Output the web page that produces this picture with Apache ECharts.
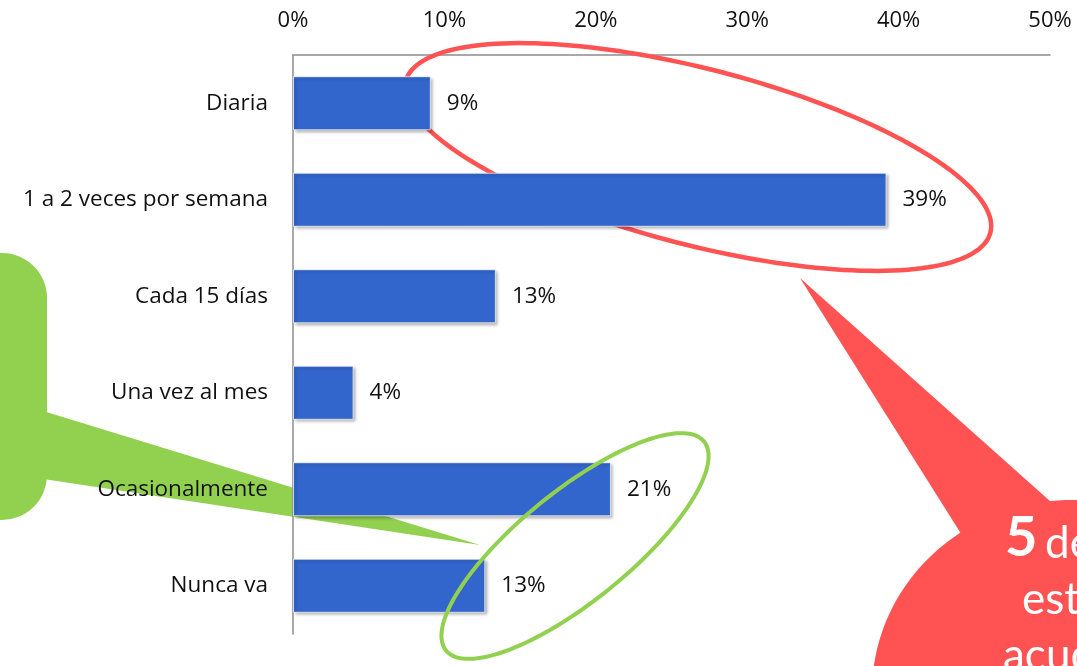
<!DOCTYPE html>
<html>
<head>
<meta charset="utf-8">
<script src="https://cdn.jsdelivr.net/npm/echarts@6/dist/echarts.min.js"></script>
<style>
html,body{margin:0;padding:0;background:#fff;}
#chart{width:1077px;height:666px;}
</style>
</head>
<body>
<div id="chart"></div>
<script>
// Data
const categories = ['Diaria', '1 a 2 veces por semana', 'Cada 15 días', 'Una vez al mes', 'Ocasionalmente', 'Nunca va'];
const values = [9.1, 39.2, 13.4, 4.0, 21.0, 12.7];
const axisMin = 0, axisMax = 50, axisStep = 10;
const calloutLines = ['de cada 10', 'estudiantes', 'acuden'];
const calloutNumber = '5';

const FONT = '"Open Sans"';
const RED = '#FF5252';
const GREEN = '#92D050';

function ellipsePoints(cx, cy, a, b, deg, n) {
  const th = deg * Math.PI / 180, pts = [];
  for (let i = 0; i < n; i++) {
    const t = i / n * 2 * Math.PI;
    pts.push([cx + a * Math.cos(t) * Math.cos(th) - b * Math.sin(t) * Math.sin(th),
              cy + a * Math.cos(t) * Math.sin(th) + b * Math.sin(t) * Math.cos(th)]);
  }
  return pts;
}

const chart = echarts.init(document.getElementById('chart'), null, {renderer: 'canvas'});
chart.setOption({
  animation: false,
  backgroundColor: '#fff',
  grid: {left: 293, right: 27, top: 55, bottom: 32, containLabel: false},
  xAxis: {
    type: 'value', position: 'top', min: axisMin, max: axisMax, interval: axisStep,
    axisLine: {show: true, lineStyle: {color: '#8c8c8c', width: 1.5}},
    axisTick: {show: false},
    splitLine: {show: false},
    axisLabel: {formatter: '{value}%', color: '#111', fontFamily: FONT, fontSize: 22, margin: 23}
  },
  yAxis: {
    type: 'category', data: categories, inverse: true,
    axisLine: {show: true, lineStyle: {color: '#8c8c8c', width: 1.5}},
    axisTick: {show: false},
    axisLabel: {color: '#111', fontFamily: FONT, fontSize: 22.5, margin: 25}
  },
  series: [{
    type: 'bar', data: values, barWidth: '56%', z: 5,
    itemStyle: {color: '#3366CC', borderColor: 'rgba(255,255,255,0.7)', borderWidth: 1,
      shadowColor: 'rgba(0,0,0,0.35)', shadowBlur: 3, shadowOffsetX: 2, shadowOffsetY: 2},
    label: {show: true, position: 'right', distance: 16, color: '#111', fontFamily: FONT, fontSize: 22.5,
      formatter: p => Math.round(p.value) + '%'}
  }],
  graphic: [
    // green callout (behind chart)
    {type: 'rect', z: -10, shape: {x: -60, y: 253, width: 107, height: 267, r: 45}, style: {fill: GREEN}},
    {type: 'polygon', z: -10, shape: {points: [[30, 407], [480, 545], [30, 477]]}, style: {fill: GREEN}},
    // red ellipse (behind bars)
    {type: 'polygon', z: 1, shape: {points: ellipsePoints(698, 157, 302, 88, 14.5, 180)},
      style: {fill: 'none', stroke: RED, lineWidth: 4.5}},
    // green ellipse (above bars)
    {type: 'polygon', z: 50, shape: {points: ellipsePoints(575, 546, 166, 55, -39, 180)},
      style: {fill: 'none', stroke: GREEN, lineWidth: 4}},
    // red callout
    {type: 'polygon', z: 1, shape: {points: [[800, 278], [965, 540], [1060, 510]]}, style: {fill: RED}},
    {type: 'polygon', z: 1, shape: {points: ellipsePoints(1072, 692, 200, 192, 0, 180)}, style: {fill: RED}},
    {type: 'text', z: 60, style: {x: 1005, y: 566, text: calloutNumber, fill: '#fff', font: 'bold 56px Lato', textVerticalAlign: 'bottom'}},
    {type: 'text', z: 60, style: {x: 1045, y: 566, text: calloutLines[0], fill: '#fff', font: '44px Lato', textVerticalAlign: 'bottom'}},
    {type: 'text', z: 60, style: {x: 1022, y: 622, text: calloutLines[1], fill: '#fff', font: '44px Lato', textVerticalAlign: 'bottom'}},
    {type: 'text', z: 60, style: {x: 1003, y: 678, text: calloutLines[2], fill: '#fff', font: '44px Lato', textVerticalAlign: 'bottom'}}
  ]
});
</script>
</body>
</html>
